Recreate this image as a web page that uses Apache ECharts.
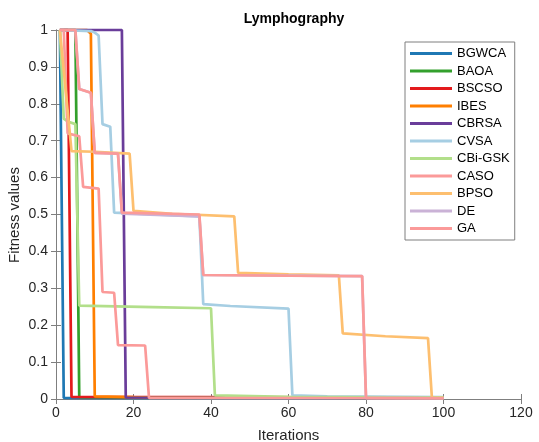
<!DOCTYPE html>
<html>
<head>
<meta charset="utf-8">
<script src="https://cdn.jsdelivr.net/npm/echarts@6/dist/echarts.min.js"></script>
<style>html,body{margin:0;padding:0;background:#fff}#c{width:539px;height:442px}</style>
</head>
<body>
<div id="c"></div>
<script>
const seriesNames = ['BGWCA','BAOA','BSCSO','IBES','CBRSA','CVSA','CBi-GSK','CASO','BPSO','DE','GA'];
const xTicks = [0,20,40,60,80,100,120];
const yTicks = [0,0.1,0.2,0.3,0.4,0.5,0.6,0.7,0.8,0.9,1];
// [iteration, fitness] breakpoints
const BGWCA = [[1,1],[2,0.003],[100,0.002]];
const BAOA = [[1,1],[5,1],[6,0.005],[100,0.003]];
const BSCSO = [[1,1],[3,1],[4,0.006],[100,0.004]];
const IBES = [[1,1],[8,1],[9,0.99],[10,0.007],[20,0.005],[100,0.003]];
const CBRSA = [[1,1],[17,1],[18,0.004],[100,0.003]];
const CVSA = [[1,1],[9,0.997],[10,0.993],[11,0.985],[12,0.745],[14,0.738],[15,0.505],[37,0.495],[38,0.257],[45,0.252],[60,0.245],[61,0.01],[70,0.007],[100,0.005]];
const CBiGSK = [[1,1],[2,0.76],[3,0.752],[5,0.745],[6,0.253],[25,0.249],[40,0.246],[41,0.01],[60,0.006],[100,0.004]];
const CASO = [[1,1],[2,1],[3,0.72],[6,0.712],[7,0.575],[11,0.57],[12,0.29],[15,0.288],[16,0.146],[23,0.145],[24,0.003],[100,0.002]];
const BPSO = [[1,1],[4,0.672],[10,0.67],[19,0.665],[20,0.51],[30,0.502],[46,0.495],[47,0.342],[60,0.338],[73,0.335],[74,0.178],[85,0.17],[96,0.165],[97,0.004],[100,0.003]];
const DE = [[1,1],[5,1],[6,0.84],[9,0.83],[10,0.667],[16,0.665],[17,0.502],[37,0.495],[38,0.336],[79,0.333],[80,0.003],[100,0.002]];
const GA = [[1,1],[5,1],[6,0.84],[9,0.83],[10,0.667],[16,0.665],[17,0.505],[37,0.5],[38,0.336],[60,0.334],[79,0.333],[80,0.003],[100,0.002]];
const allData = [BGWCA,BAOA,BSCSO,IBES,CBRSA,CVSA,CBiGSK,CASO,BPSO,DE,GA];
const colors = ['#1f78b4','#33a02c','#e31a1c','#ff7f00','#6a3d9a','#a6cee3','#b2df8a','#fb9a99','#fdbf6f','#cab2d6','#fb9a99'];
const yTitle = 'Fitness values';

const chart = echarts.init(document.getElementById('c'), null, {renderer:'canvas'});
const axisCol = '#262626';
const lineCol = '#7f7f7f';
const font = 'Liberation Sans, Arial, sans-serif';
chart.setOption({
  animation:false,
  backgroundColor:'#fff',
  color: colors,
  title:{text:'Lymphography', left:289, top:7, textAlign:'center',
    textStyle:{fontSize:14, fontWeight:'bold', color:'#000', fontFamily:font}},
  grid:{left:56, right:18, top:30, bottom:43, containLabel:false, outerBoundsMode:'none'},
  graphic:[{
    type:'text', x:15, y:215, rotation:Math.PI/2,
    style:{text:yTitle, fontSize:15, fill:axisCol, fontFamily:font, align:'center', verticalAlign:'middle'}
  }],
  legend:{
    orient:'vertical', left:405, top:42,
    data: seriesNames,
    icon:'rect', itemWidth:42, itemHeight:3, itemGap:2.5,
    backgroundColor:'#fff', borderColor:'#7f7f7f', borderWidth:1,
    padding:[4,5,4,5],
    textStyle:{fontSize:13, color:'#000', fontFamily:font, lineHeight:15, padding:[0,0,0,0]},
    selectedMode:false
  },
  xAxis:[{
    type:'value', min:0, max:120, interval:20,
    name:'Iterations', nameLocation:'middle', nameGap:29, nameMoveOverlap:false,
    nameTextStyle:{fontSize:15, color:axisCol, fontFamily:font},
    axisLine:{show:true, lineStyle:{color:lineCol, width:1}},
    axisTick:{show:true, inside:true, length:5, lineStyle:{color:lineCol}},
    axisLabel:{fontSize:14, color:axisCol, fontFamily:font, margin:7},
    splitLine:{show:false}
  },{
    type:'value', min:0, max:120, interval:20, position:'top',
    axisLine:{show:true, lineStyle:{color:lineCol, width:1}},
    axisTick:{show:true, inside:true, length:5, lineStyle:{color:lineCol}},
    axisLabel:{show:false}, splitLine:{show:false}
  }],
  yAxis:[{
    type:'value', min:0, max:1, interval:0.1,
    axisLine:{show:true, lineStyle:{color:lineCol, width:1}},
    axisTick:{show:true, inside:true, length:5, lineStyle:{color:lineCol}},
    axisLabel:{fontSize:14, color:axisCol, fontFamily:font, margin:8,
      formatter:function(v){return String(Math.round(v*10)/10);}},
    splitLine:{show:false}
  },{
    type:'value', min:0, max:1, interval:0.1, position:'right',
    axisLine:{show:true, lineStyle:{color:lineCol, width:1}},
    axisTick:{show:true, inside:true, length:5, lineStyle:{color:lineCol}},
    axisLabel:{show:false}, splitLine:{show:false}
  }],
  series: seriesNames.map(function(n,i){
    return {name:n, type:'line', data:allData[i], xAxisIndex:0, yAxisIndex:0,
      showSymbol:false, symbol:'none', clip:false,
      lineStyle:{width:2.7, color:colors[i]}, itemStyle:{color:colors[i]}};
  })
});
</script>
</body>
</html>
